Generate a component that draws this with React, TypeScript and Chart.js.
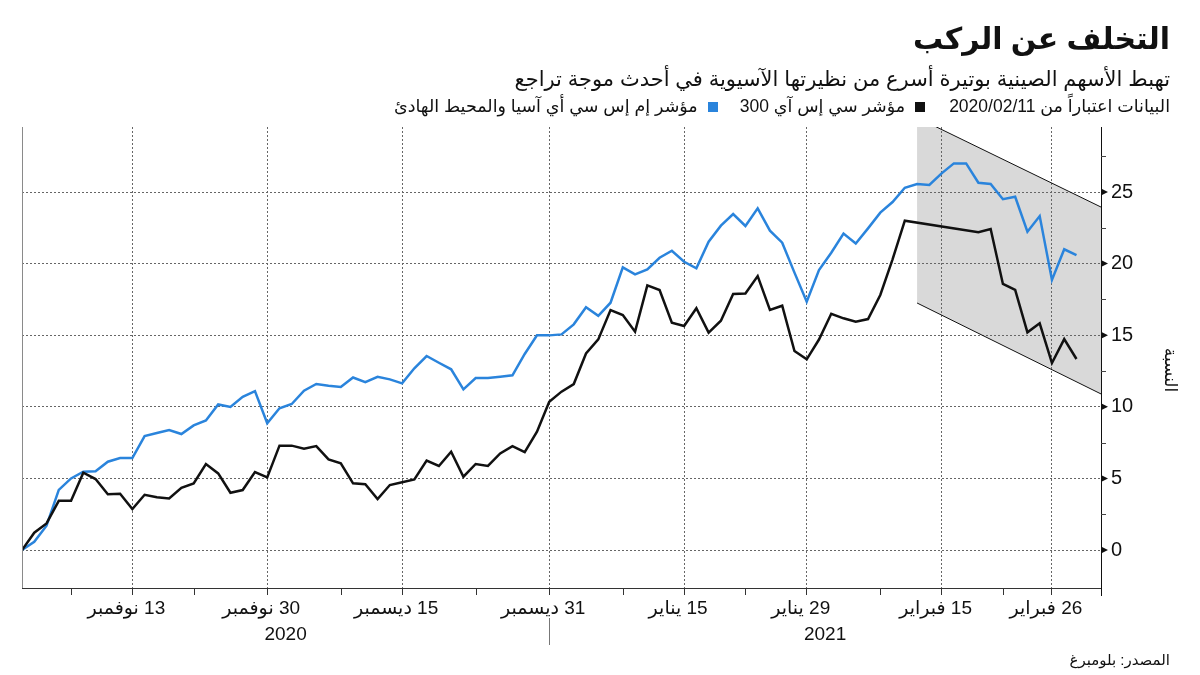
import React, { useEffect, useRef } from 'react';
import { Chart, registerables } from 'chart.js';

Chart.register(...registerables);

// Index = trading weekday starting 2020-11-02 (0) through 2021-03-02 (86)
const csi300: (number | null)[] = [
  0, 1.21, 1.86, 3.44, 3.44, 5.4, 4.96, 3.89, 3.93, 2.86,
  3.86, 3.68, 3.6, 4.35, 4.65, 6.0, 5.35, 4.0, 4.19, 5.45,
  5.07, 7.29, 7.29, 7.08, 7.26, 6.33, 6.05, 4.66, 4.59, 3.56,
  4.54, 4.73, 4.93, 6.24, 5.87, 6.87, 5.12, 6.01, 5.87, 6.75,
  7.26, 6.84, 8.26, 10.36, 11.06, 11.59, 13.73, 14.71, 16.76, 16.41,
  15.25, 18.48, 18.16, 15.88, 15.64, 16.88, 15.18, 16.01, 17.88, 17.92,
  19.13, 16.76, 17.06, 13.9, 13.32, 14.7, 16.5, 16.18, 15.95, 16.13,
  17.81, 20.3, 23.0, null, null, null, null, null, 22.2, 22.42,
  18.58, 18.16, 15.2, 15.83, 13.06, 14.73, 13.34,
];

const msciAsiaPacific: number[] = [
  0, 0.58, 1.7, 4.2, 5.0, 5.47, 5.5, 6.17, 6.42, 6.42,
  7.96, 8.17, 8.38, 8.1, 8.7, 9.05, 10.17, 9.99, 10.7, 11.1,
  8.85, 9.9, 10.2, 11.13, 11.6, 11.48, 11.38, 12.05, 11.73, 12.1,
  11.92, 11.64, 12.69, 13.55, 13.08, 12.62, 11.22, 12.01, 12.01, 12.1,
  12.2, 13.69, 14.99, 14.99, 15.06, 15.76, 16.95, 16.36, 17.27, 19.74,
  19.25, 19.6, 20.41, 20.9, 20.13, 19.67, 21.53, 22.65, 23.46, 22.63,
  23.86, 22.3, 21.46, 19.37, 17.34, 19.55, 20.76, 22.1, 21.4, 22.46,
  23.56, 24.3, 25.3, 25.56, 25.49, 26.3, 27.0, 27.0, 25.65, 25.56,
  24.5, 24.67, 22.23, 23.32, 18.86, 21.0, 20.6,
];

const xTickIdx = [9, 20, 31, 43, 54, 64, 75, 84];
const xTickLabels = ['13 نوفمبر', '30 نوفمبر', '15 ديسمبر', '31 ديسمبر', '15 يناير', '29 يناير', '15 فبراير', '26 فبراير'];
const xMinorIdx = [4, 14, 26, 37, 49, 59, 70, 80];
const yTickVals = [0, 5, 10, 15, 20, 25];
const yMinorVals = [2.5, 7.5, 12.5, 17.5, 22.5, 27.5];
const yearLabels = ['2020', '2021'];
const yearBounds = [0, 43, 88];

const channelX = [73, 88];
const channelUpper = [30.2, 23.95];
const channelLower = [17.25, 10.9];

const BLUE = '#2a84dc';
const BLACK = '#111111';
const FONT = '"Liberation Sans", "DejaVu Sans", sans-serif';

export default function App() {
  const ref = useRef<HTMLCanvasElement>(null);

  useEffect(() => {
    const canvas = ref.current!;
    const overlay = {
      id: 'overlay',
      afterDraw(chart: any) {
        const { ctx, chartArea: a, scales } = chart;
        const x = scales.x;
        const y = scales.y;
        ctx.save();
        // left axis line
        ctx.strokeStyle = '#8a8a8a';
        ctx.lineWidth = 1;
        ctx.beginPath();
        ctx.moveTo(a.left + 0.5, a.top);
        ctx.lineTo(a.left + 0.5, a.bottom);
        ctx.stroke();
        // right axis extends slightly below
        ctx.strokeStyle = '#111';
        ctx.beginPath();
        ctx.moveTo(a.right + 0.5, a.bottom);
        ctx.lineTo(a.right + 0.5, a.bottom + 8);
        ctx.stroke();
        // minor x ticks
        ctx.strokeStyle = '#333';
        xMinorIdx.forEach((v) => {
          const px = Math.round(x.getPixelForValue(v)) + 0.5;
          ctx.beginPath();
          ctx.moveTo(px, a.bottom);
          ctx.lineTo(px, a.bottom + 7);
          ctx.stroke();
        });
        // y major markers (triangles) and minor ticks
        ctx.fillStyle = '#111';
        yTickVals.forEach((v) => {
          const py = y.getPixelForValue(v);
          ctx.beginPath();
          ctx.moveTo(a.right, py - 3.5);
          ctx.lineTo(a.right + 7, py);
          ctx.lineTo(a.right, py + 3.5);
          ctx.closePath();
          ctx.fill();
        });
        ctx.strokeStyle = '#444';
        yMinorVals.forEach((v) => {
          const py = Math.round(y.getPixelForValue(v)) + 0.5;
          ctx.beginPath();
          ctx.moveTo(a.right, py);
          ctx.lineTo(a.right + 5, py);
          ctx.stroke();
        });
        // year labels + separator
        ctx.direction = 'ltr';
        ctx.fillStyle = '#111';
        ctx.font = `19px ${FONT}`;
        ctx.textAlign = 'center';
        ctx.textBaseline = 'middle';
        yearLabels.forEach((lab, i) => {
          const cx = x.getPixelForValue((yearBounds[i] + yearBounds[i + 1]) / 2);
          ctx.fillText(lab, cx, 635);
        });
        ctx.strokeStyle = '#777';
        const sx = Math.round(x.getPixelForValue(yearBounds[1])) + 0.5;
        ctx.beginPath();
        ctx.moveTo(sx, 618);
        ctx.lineTo(sx, 645);
        ctx.stroke();
        // y title rotated
        ctx.save();
        ctx.translate(1170, 370);
        ctx.rotate(Math.PI / 2);
        ctx.direction = 'rtl';
        ctx.font = `17px ${FONT}`;
        ctx.textAlign = 'center';
        ctx.textBaseline = 'middle';
        ctx.fillText('النسبة', 0, 0);
        ctx.restore();
        ctx.restore();
      },
    };

    const chart = new Chart(canvas, {
      type: 'line',
      data: {
        datasets: [
          {
            label: 'مؤشر سي إس آي 300',
            data: csi300.map((v, i) => ({ x: i, y: v })),
            borderColor: BLACK,
            borderWidth: 2.5,
            pointRadius: 0,
            spanGaps: true,
            fill: false,
          },
          {
            label: 'مؤشر إم إس سي أي آسيا والمحيط الهادئ',
            data: msciAsiaPacific.map((v, i) => ({ x: i, y: v })),
            borderColor: BLUE,
            borderWidth: 2.5,
            pointRadius: 0,
            fill: false,
          },
          {
            label: 'upper',
            data: channelX.map((v, i) => ({ x: v, y: channelUpper[i] })),
            borderColor: '#111',
            borderWidth: 1,
            pointRadius: 0,
            fill: '+1',
            backgroundColor: '#d9d9d9',
          },
          {
            label: 'lower',
            data: channelX.map((v, i) => ({ x: v, y: channelLower[i] })),
            borderColor: '#111',
            borderWidth: 1,
            pointRadius: 0,
            fill: false,
          },
        ],
      },
      options: {
        responsive: false,
        animation: false,
        layout: { padding: { left: 22, top: 127, right: 0, bottom: 0 } },
        plugins: {
          legend: { display: false },
          tooltip: { enabled: false },
          filler: { drawTime: 'beforeDraw' },
        } as any,
        scales: {
          x: {
            type: 'linear',
            min: 0,
            max: 88,
            afterBuildTicks: (axis: any) => {
              axis.ticks = xTickIdx.map((v) => ({ value: v }));
            },
            afterFit: (s: any) => {
              s.height = 87;
            },
            grid: {
              color: '#666',
              lineWidth: 1,
              drawTicks: true,
              tickLength: 7,
              tickColor: '#333',
              tickBorderDash: [],
            },
            border: { display: true, color: '#333', width: 1, dash: [2, 2] },
            ticks: {
              autoSkip: false,
              maxRotation: 0,
              padding: 2,
              labelOffset: -6,
              color: '#111',
              font: { size: 19, family: FONT },
              callback: (v: any) => xTickLabels[xTickIdx.indexOf(Number(v))] ?? '',
            },
          },
          y: {
            type: 'linear',
            position: 'right',
            min: -2.65,
            max: 29.54,
            afterBuildTicks: (axis: any) => {
              axis.ticks = yTickVals.map((v) => ({ value: v }));
            },
            afterFit: (s: any) => {
              s.width = 99;
            },
            grid: { color: '#666', lineWidth: 1, drawTicks: false },
            border: { display: true, color: '#111', width: 1, dash: [2, 2] },
            ticks: {
              padding: 10,
              color: '#111',
              font: { size: 20, family: FONT },
              callback: (v: any) => String(v),
            },
          },
        },
      } as any,
      plugins: [overlay],
    });
    return () => chart.destroy();
  }, []);

  const textBase: React.CSSProperties = {
    position: 'absolute',
    right: 30,
    direction: 'rtl',
    fontFamily: FONT,
    color: '#111',
    whiteSpace: 'nowrap',
    lineHeight: 1,
  };
  const sq = (c: string): React.CSSProperties => ({
    display: 'inline-block',
    width: 10,
    height: 10,
    background: c,
    marginLeft: 10,
    verticalAlign: 'middle',
  });

  return (
    <div style={{ position: 'absolute', left: 0, top: 0, width: 1200, height: 675, background: '#fff', overflow: 'hidden' }}>
      <canvas ref={ref} width={1200} height={675} style={{ position: 'absolute', left: 0, top: 0, direction: 'rtl' }} />
      <div style={{ ...textBase, top: 24, fontSize: 30, fontWeight: 'bold' }}>التخلف عن الركب</div>
      <div style={{ ...textBase, top: 68, fontSize: 21 }}>
        تهبط الأسهم الصينية بوتيرة أسرع من نظيرتها الآسيوية في أحدث موجة تراجع
      </div>
      <div style={{ ...textBase, top: 98, fontSize: 17.5 }}>
        <span>البيانات اعتباراً من 2020/02/11</span>
        <span style={{ marginRight: 24 }}>
          <span style={sq(BLACK)} />
          مؤشر سي إس آي 300
        </span>
        <span style={{ marginRight: 22 }}>
          <span style={sq(BLUE)} />
          مؤشر إم إس سي أي آسيا والمحيط الهادئ
        </span>
      </div>
      <div style={{ ...textBase, top: 652, fontSize: 15 }}>المصدر: بلومبرغ</div>
    </div>
  );
}
